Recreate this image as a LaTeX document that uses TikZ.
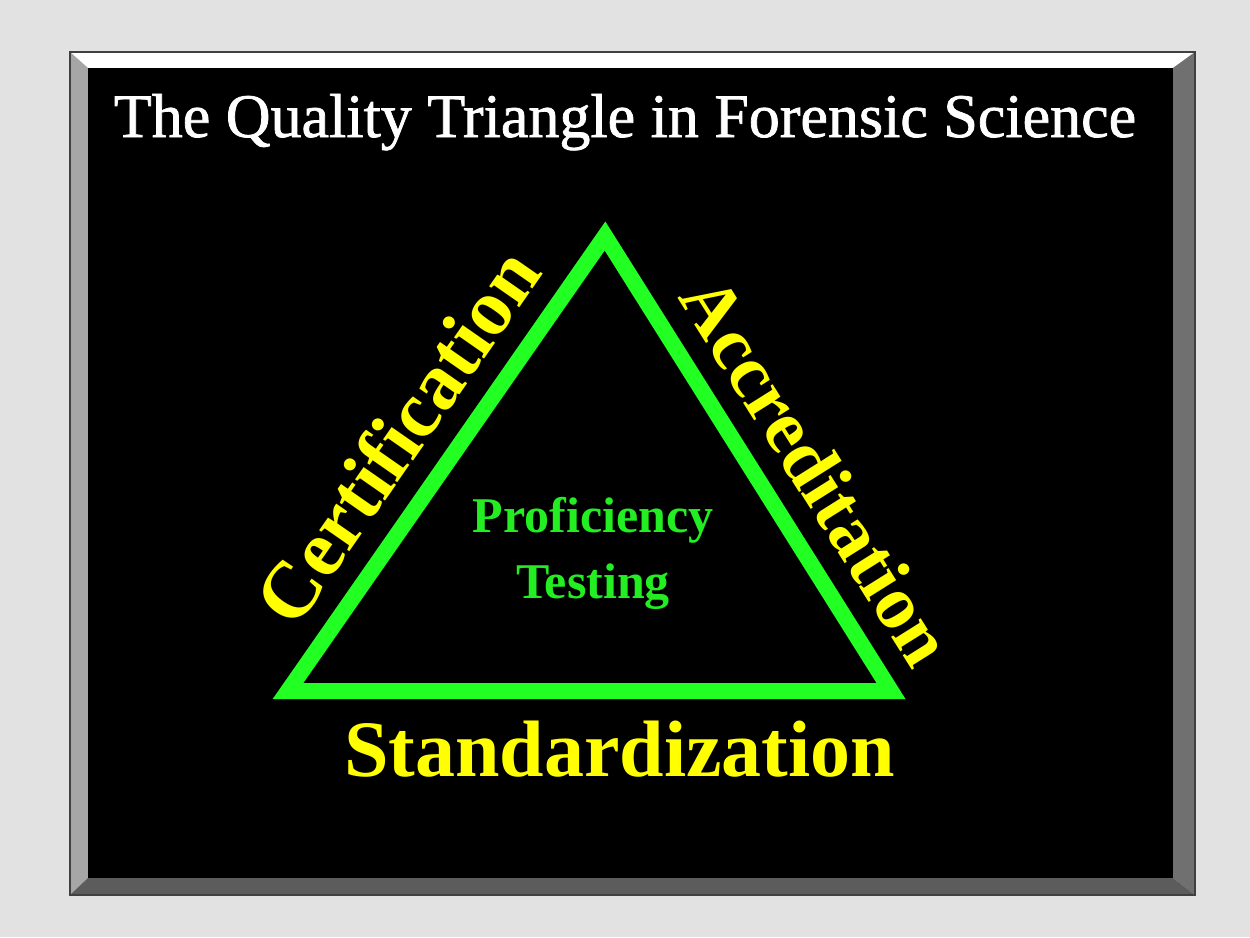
\documentclass[tikz,border=0pt]{standalone}
\usepackage{fontspec}
\setmainfont{Liberation Serif}
\newfontface\titlefont[FakeBold=1.2]{Liberation Serif}
\definecolor{bggray}{HTML}{E2E2E2}
\definecolor{bevleft}{HTML}{A6A6A6}
\definecolor{bevright}{HTML}{707070}
\definecolor{bevbottom}{HTML}{5C5C5C}
\definecolor{triyellow}{HTML}{FFFF00}
\definecolor{trigreen}{HTML}{22FF22}
\definecolor{textgreen}{HTML}{22EE22}
\tikzset{
  tri/.style={trigreen, line width=16pt},
  side label/.style={triyellow, inner sep=0pt, font=\bfseries\fontsize{80}{90}\selectfont},
  inner label/.style={textgreen, align=center, inner sep=0pt, font=\bfseries\fontsize{50}{66}\selectfont},
}
\begin{document}
\begin{tikzpicture}[x=1pt,y=-1pt]
% background and bevelled frame
\fill[bggray] (0,0) rectangle (1250,937);
\fill[white] (70,52) -- (1195,52) -- (1173,68) -- (88,68) -- cycle;
\fill[bevleft] (70,52) -- (88,68) -- (88,878) -- (70,895) -- cycle;
\fill[bevright] (1195,52) -- (1195,895) -- (1173,878) -- (1173,68) -- cycle;
\fill[bevbottom] (70,895) -- (88,878) -- (1173,878) -- (1195,895) -- cycle;
\fill[black] (88,68) rectangle (1173,878);
\draw[black!75, line width=1.5pt] (70,52) rectangle (1195,895);

\node[white, anchor=base, inner sep=0pt, font=\titlefont\fontsize{62}{72}\selectfont] (title) at (625,137)
  {The Quality Triangle in Forensic Science};

% the triangle
\coordinate (L) at (288,691);
\coordinate (T) at (605,236);
\coordinate (R) at (891,691);
\draw[tri] (L) -- node[side label, sloped, above=20pt, pos=.49] (cert) {Certification} (T)
  -- node[side label, sloped, above=20pt, pos=.58, font=\bfseries\fontsize{76}{86}\selectfont] (accr) {Accreditation} (R)
  -- node[side label, below=22pt, pos=.45] (stand) {Standardization} cycle;

\node[inner label] (prof) at (593,553) {Proficiency\\Testing};
\end{tikzpicture}
\end{document}
